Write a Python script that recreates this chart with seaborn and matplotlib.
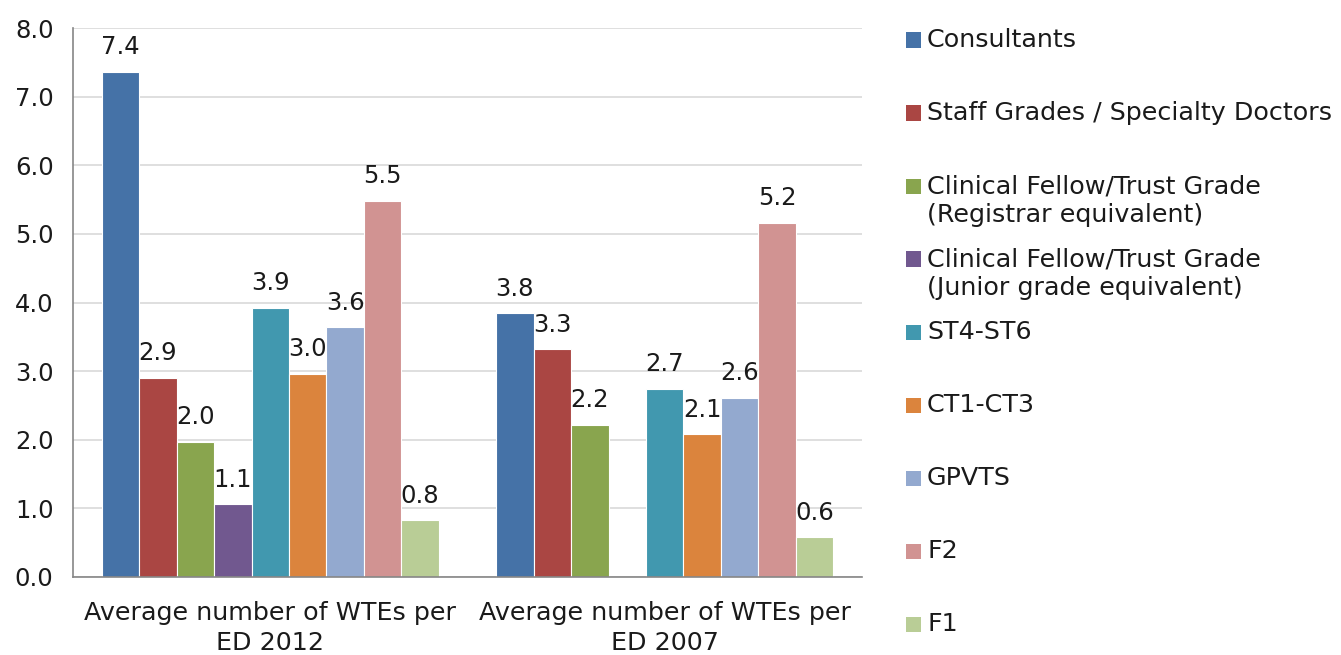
import numpy as np
import pandas as pd
import matplotlib
matplotlib.use("Agg")
import matplotlib.pyplot as plt
from matplotlib.patches import Rectangle
import seaborn as sns

# ---------------------------------------------------------------------------
# DATA
# ---------------------------------------------------------------------------
groups = ["Average number of WTEs per\nED 2012", "Average number of WTEs per\nED 2007"]
series = [
    "Consultants",
    "Staff Grades / Specialty Doctors",
    "Clinical Fellow/Trust Grade\n(Registrar equivalent)",
    "Clinical Fellow/Trust Grade\n(Junior grade equivalent)",
    "ST4-ST6",
    "CT1-CT3",
    "GPVTS",
    "F2",
    "F1",
]
values_2012 = [7.36, 2.90, 1.97, 1.06, 3.92, 2.96, 3.64, 5.48, 0.83]
values_2007 = [3.84, 3.32, 2.22, np.nan, 2.74, 2.08, 2.61, 5.16, 0.58]
colors = ["#4572A7", "#AA4643", "#89A54E", "#71588F", "#4198AF",
          "#DB843D", "#93A9CF", "#D19392", "#B9CD96"]
y_ticks = [0, 1, 2, 3, 4, 5, 6, 7, 8]

# ---------------------------------------------------------------------------
# PLOT
# ---------------------------------------------------------------------------
W, H = 1341, 655
sns.set_style("white")
plt.rcParams["font.family"] = ["DejaVu Sans"]
plt.rcParams["text.color"] = "#1a1a1a"
plt.rcParams["xtick.color"] = "#1a1a1a"
plt.rcParams["ytick.color"] = "#1a1a1a"

df = pd.DataFrame({
    "group": [groups[0]] * len(series) + [groups[1]] * len(series),
    "series": series * 2,
    "value": values_2012 + values_2007,
})

fig = plt.figure(figsize=(W / 100, H / 100), dpi=100)
ax = fig.add_axes([73 / W, 1 - 577 / H, (862 - 73) / W, (577 - 28) / H])

sns.barplot(data=df, x="group", y="value", hue="series", hue_order=series,
            palette=colors, saturation=1, width=0.855, edgecolor="white",
            linewidth=0.8, legend=False, ax=ax)

for cont in ax.containers:
    ax.bar_label(cont, fmt="{:.1f}", padding=9, fontsize=17.5, color="#1a1a1a")

ax.set_ylim(0, 8)
ax.set_xlim(-0.5, 1.5)
ax.set_yticks(y_ticks)
ax.set_yticklabels([f"{t:.1f}" for t in y_ticks], fontsize=17.5)
ax.set_xticks([0, 1])
ax.set_xticklabels(groups, fontsize=18.3, linespacing=1.32)
ax.set_xticks([-0.5, 0.5, 1.5], minor=True)
ax.tick_params(axis="x", which="major", length=0, pad=17)
ax.tick_params(axis="x", which="minor", length=8, color="#868686", width=1.2)
ax.tick_params(axis="y", length=8, color="#868686", width=1.2, pad=6)
ax.set_xlabel("")
ax.set_ylabel("")

ax.yaxis.grid(True, color="#d9d9d9", linewidth=1.2)
ax.set_axisbelow(True)
for side in ["top", "right"]:
    ax.spines[side].set_visible(False)
for side in ["left", "bottom"]:
    ax.spines[side].set_color("#868686")
    ax.spines[side].set_linewidth(1.2)

# legend drawn by hand so wrapped labels keep the square on the first line
step = 73
line_gap = 30
for i, (lab, col) in enumerate(zip(series, colors)):
    yc = 40 + i * step
    fig.add_artist(Rectangle((906 / W, 1 - (yc + 7.5) / H), 15 / W, 15 / H,
                             facecolor=col, edgecolor="none",
                             transform=fig.transFigure))
    n = lab.count("\n")
    fig.text(927 / W, 1 - (yc + n * line_gap / 2) / H, lab, fontsize=18.3,
             va="center", ha="left", linespacing=1.25)

fig.savefig("out.png", dpi=100)
